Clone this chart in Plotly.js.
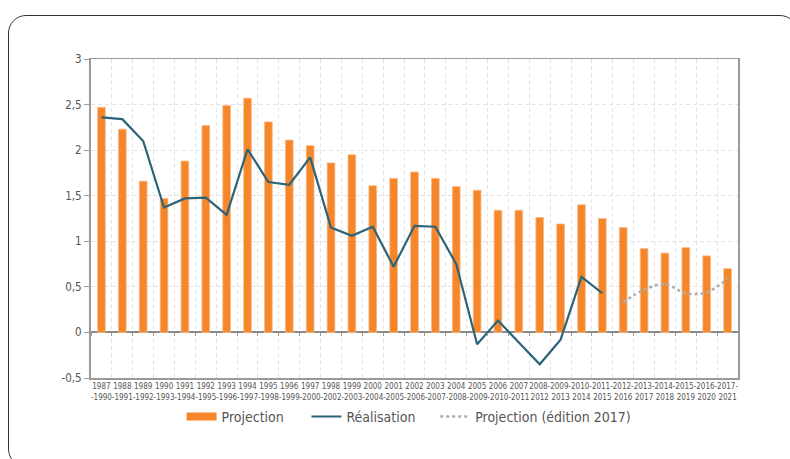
<!DOCTYPE html>
<html>
<head>
<meta charset="utf-8">
<script src="https://cdn.plot.ly/plotly-3.0.1.min.js"></script>
<style>
  html, body { margin: 0; padding: 0; background: #fff; overflow: hidden; }
  #frame { position: absolute; left: 8px; top: 15px; width: 790px; height: 452px;
           border: 1.5px solid #333; border-radius: 18px; box-sizing: border-box; }
  #chart { position: absolute; left: 0; top: 0; width: 790px; height: 459px; }
</style>
</head>
<body>
<div id="frame"></div>
<div id="chart"></div>
<script>
const categories = ["1987<br>-1990","1988<br>-1991","1989<br>-1992","1990<br>-1993","1991<br>-1994",
  "1992<br>-1995","1993<br>-1996","1994<br>-1997","1995<br>-1998","1996<br>-1999","1997<br>-2000",
  "1998<br>-2002","1999<br>-2003","2000<br>-2004","2001<br>-2005","2002<br>-2006","2003<br>-2007",
  "2004<br>-2008","2005<br>-2009","2006<br>-2010","2007<br>-2011","2008-<br>2012","2009-<br>2013",
  "2010-<br>2014","2011-<br>2015","2012-<br>2016","2013-<br>2017","2014-<br>2018","2015-<br>2019",
  "2016-<br>2020","2017-<br>2021"];

const projection = [2.47, 2.23, 1.66, 1.47, 1.88, 2.27, 2.49, 2.57, 2.31, 2.11, 2.05,
  1.86, 1.95, 1.61, 1.69, 1.76, 1.69, 1.60, 1.56, 1.34, 1.34, 1.26, 1.19, 1.40, 1.25,
  1.15, 0.92, 0.87, 0.93, 0.84, 0.70];

const realisationCats = categories.slice(0, 25);
const realisation = [2.36, 2.34, 2.10, 1.37, 1.47, 1.48, 1.29, 2.01, 1.65, 1.62, 1.92,
  1.15, 1.06, 1.16, 0.72, 1.17, 1.16, 0.75, -0.13, 0.13, -0.11, -0.35, -0.08, 0.61, 0.43];

const projection2017Cats = categories.slice(25);
const projection2017 = [0.33, 0.47, 0.53, 0.43, 0.44, 0.59];

const yTicks = [-0.5, 0, 0.5, 1, 1.5, 2, 2.5, 3];
const yTickText = ["-0,5", "0", "0,5", "1", "1,5", "2", "2,5", "3"];

const fontFam = "'DejaVu Sans Condensed', 'Liberation Sans Narrow', 'Liberation Sans', Arial, sans-serif";

const orange = '#F5872A';

const data = [
  { type: 'bar', name: 'Projection', x: categories, y: projection, showlegend: false,
    marker: { color: orange, line: { color: '#F9B98A', width: 0.8 } } },
  { type: 'scatter', mode: 'lines', name: 'Projection', x: [null], y: [null],
    line: { color: orange, width: 8 }, showlegend: true, legend: 'legend' },
  { type: 'scatter', mode: 'lines', name: 'Réalisation', x: realisationCats, y: realisation,
    line: { color: '#2B6478', width: 2.2 }, legend: 'legend2' },
  { type: 'scatter', mode: 'lines', name: 'Projection (édition 2017)', x: projection2017Cats, y: projection2017,
    line: { color: '#A7AFBB', width: 2.6, dash: 'dot', shape: 'spline' }, legend: 'legend3' },
  { type: 'scatter', mode: 'lines', x: [null], y: [null], xaxis: 'x2', showlegend: false, hoverinfo: 'skip' }
];

const legendBase = { orientation: 'h', xanchor: 'left', y: -0.122, yanchor: 'middle',
  font: { size: 14, color: '#555' }, itemwidth: 30, bgcolor: 'rgba(0,0,0,0)' };

const layout = {
  width: 790, height: 459,
  margin: { l: 91, r: 52, t: 59, b: 81 },
  paper_bgcolor: 'rgba(0,0,0,0)', plot_bgcolor: '#fff',
  separators: ', ',
  font: { family: fontFam, color: '#555', size: 11 },
  bargap: 0.63,
  showlegend: true,
  legend: Object.assign({}, legendBase, { x: 0.140 }),
  legend2: Object.assign({}, legendBase, { x: 0.333 }),
  legend3: Object.assign({}, legendBase, { x: 0.532 }),
  xaxis: {
    type: 'category', tickson: 'boundaries', showgrid: true, gridcolor: '#e3e3e3', griddash: '4px,3px',
    gridwidth: 1, ticks: '', tickfont: { size: 8, color: '#555' },
    showline: true, linecolor: '#9a9a9a', linewidth: 1.5, mirror: true, tickangle: 0,
    range: [-0.5, 30.5]
  },
  xaxis2: {
    type: 'linear', overlaying: 'x', anchor: 'free', position: 0.5 / 3.5, side: 'bottom',
    range: [-0.5, 30.5], tick0: 0.5, dtick: 1, ticks: 'outside', ticklen: 3, tickwidth: 1,
    tickcolor: '#9a9a9a', showticklabels: false, showgrid: false, zeroline: false, showline: false
  },
  yaxis: {
    range: [-0.5, 3], tickvals: yTicks, ticktext: yTickText, showgrid: true, gridcolor: '#e3e3e3',
    griddash: '4px,3px',
    zeroline: true, zerolinecolor: '#8a8a8a', zerolinewidth: 2,
    showline: true, linecolor: '#9a9a9a', linewidth: 2, mirror: true,
    ticks: 'outside', ticklen: 5, tickcolor: '#9a9a9a', tickfont: { size: 11.5, color: '#555' }
  }
};

Plotly.newPlot('chart', data, layout, { displayModeBar: false, staticPlot: true });
</script>
</body>
</html>
